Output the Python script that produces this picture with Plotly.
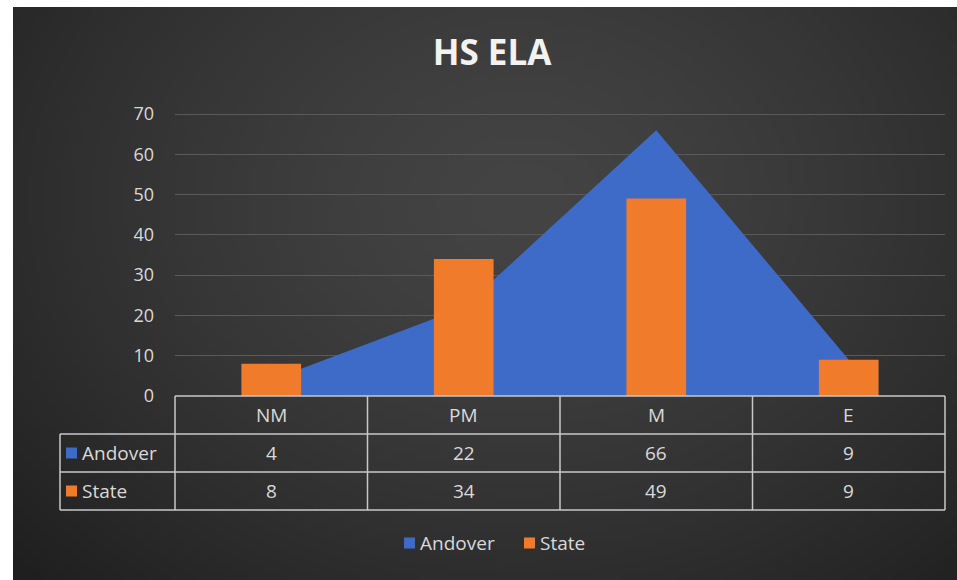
import base64, struct, zlib
import numpy as np
import plotly.graph_objects as go

# ---- data ----
categories = ["NM", "PM", "M", "E"]
andover = [4, 22, 66, 9]
state = [8, 34, 49, 9]
series_names = ["Andover", "State"]
title_text = "HS ELA"
y_ticks = [0, 10, 20, 30, 40, 50, 60, 70]
y_max = 70.5

# ---- style ----
W, H = 957, 580
L, R, T, B = 175, 12, 112, 184
PW, PH = W - L - R, H - T - B
BLUE = "#3e6bc8"
ORANGE = "#ef7b2b"
TXT = "#d9d9d9"
LINE = "#c8c8c8"
FONT = "Open Sans"


def px_x(px):
    return (px - L) / PW


def px_y(py):
    return (H - B - py) / PH


# background radial gradient image
gw, gh = 236, 143
yy, xx = np.mgrid[0:gh, 0:gw]
fx = xx / (gw - 1) * (W - 13) + 13
fy = yy / (gh - 1) * (H - 7) + 7
r = np.sqrt(((fx - 520) / 600) ** 2 + ((fy - 200) / 470) ** 2)
r = np.clip(r, 0, 1.15)
c = (68 - 30 * r ** 1.4).astype(np.uint8)
img = np.stack([c, c, c], axis=-1).astype(np.uint8)


def to_png(a):
    h, w = a.shape[:2]
    raw = b"".join(b"\x00" + a[i].tobytes() for i in range(h))

    def chunk(t, d):
        return struct.pack(">I", len(d)) + t + d + struct.pack(">I", zlib.crc32(t + d) & 0xFFFFFFFF)

    return (b"\x89PNG\r\n\x1a\n" + chunk(b"IHDR", struct.pack(">IIBBBBB", w, h, 8, 2, 0, 0, 0))
            + chunk(b"IDAT", zlib.compress(raw, 9)) + chunk(b"IEND", b""))


bg_uri = "data:image/png;base64," + base64.b64encode(to_png(img)).decode()

fig = go.Figure()
fig.add_trace(go.Scatter(x=categories, y=andover, name=series_names[0], mode="none",
                         fill="tozeroy", fillcolor=BLUE, showlegend=False,
                         xaxis="x", yaxis="y"))
fig.add_trace(go.Bar(x=categories, y=state, name=series_names[1], marker_color=ORANGE,
                     marker_line_width=0, width=0.31, showlegend=False,
                     xaxis="x", yaxis="y2"))

shapes = []
annotations = []
n = len(categories)


def txt(x, y, s, xanchor="center"):
    return dict(x=x, y=y, xref="paper", yref="paper", text=s, showarrow=False,
                xanchor=xanchor, yanchor="middle",
                font=dict(family=FONT, size=19, color=TXT))


# table geometry (pixel rows)
row_tops = [396, 434, 472, 510]
left_px = 60
y0 = px_y(row_tops[0])
ylast = px_y(row_tops[-1])
shapes.append(dict(type="line", xref="paper", yref="paper", x0=0, x1=1, y0=y0, y1=y0,
                   line=dict(color=LINE, width=1.5)))
for rt in row_tops[1:]:
    yv = px_y(rt)
    shapes.append(dict(type="line", xref="paper", yref="paper", x0=px_x(left_px), x1=1,
                       y0=yv, y1=yv, line=dict(color=LINE, width=1.5)))
for i in range(n + 1):
    shapes.append(dict(type="line", xref="paper", yref="paper", x0=i / n, x1=i / n,
                       y0=y0, y1=ylast, line=dict(color=LINE, width=1.5)))
shapes.append(dict(type="line", xref="paper", yref="paper", x0=px_x(left_px), x1=px_x(left_px),
                   y0=px_y(row_tops[1]), y1=ylast, line=dict(color=LINE, width=1.5)))

row_mid = [px_y((row_tops[k] + row_tops[k + 1]) / 2) for k in range(3)]
for i, cat in enumerate(categories):
    xc = (i + 0.5) / n
    annotations.append(txt(xc, row_mid[0], cat))
    annotations.append(txt(xc, row_mid[1], str(andover[i])))
    annotations.append(txt(xc, row_mid[2], str(state[i])))

# row headers with keys
for k, (nm, col) in enumerate(zip(series_names, [BLUE, ORANGE])):
    ym = (row_tops[k + 1] + row_tops[k + 2]) / 2
    shapes.append(dict(type="rect", xref="paper", yref="paper", x0=px_x(66), x1=px_x(77),
                       y0=px_y(ym - 5.5), y1=px_y(ym + 5.5), fillcolor=col, line_width=0))
    annotations.append(txt(px_x(80), px_y(ym), nm, "left"))

# bottom legend
leg_y = 543
for x0p, nm, col in [(404, series_names[0], BLUE), (524, series_names[1], ORANGE)]:
    shapes.append(dict(type="rect", xref="paper", yref="paper", x0=px_x(x0p), x1=px_x(x0p + 11),
                       y0=px_y(leg_y - 5.5), y1=px_y(leg_y + 5.5), fillcolor=col, line_width=0))
    annotations.append(txt(px_x(x0p + 14), px_y(leg_y), nm, "left"))

fig.update_layout(
    width=W, height=H,
    margin=dict(l=L, r=R, t=T, b=B, pad=0),
    paper_bgcolor="white",
    plot_bgcolor="rgba(0,0,0,0)",
    title=dict(text="<b>" + title_text + "</b>", x=492 / W, xanchor="center",
               y=1 - 53 / H, yanchor="middle", yref="container",
               font=dict(family=FONT, size=35, color="#f2f2f2")),
    xaxis=dict(range=[-0.5, n - 0.5], showticklabels=False, showgrid=False, zeroline=False,
               showline=False, ticks=""),
    yaxis=dict(range=[0, y_max], tickvals=y_ticks, showgrid=True, gridcolor="#5a5a5a", gridwidth=1,
               zeroline=False, showline=False, ticks="", ticklabelstandoff=20,
               tickfont=dict(family=FONT, size=18, color=TXT)),
    yaxis2=dict(range=[0, y_max], overlaying="y", visible=False, showgrid=False),
    barmode="overlay",
    showlegend=False,
    shapes=shapes,
    annotations=annotations,
    images=[dict(source=bg_uri, xref="paper", yref="paper", x=px_x(13), y=px_y(7),
                 sizex=(W - 13) / PW, sizey=(H - 7) / PH, xanchor="left", yanchor="top",
                 sizing="stretch", layer="below")],
)

fig.write_html("out.html", config={"displayModeBar": False},
               post_script="document.body.style.margin='0';")
